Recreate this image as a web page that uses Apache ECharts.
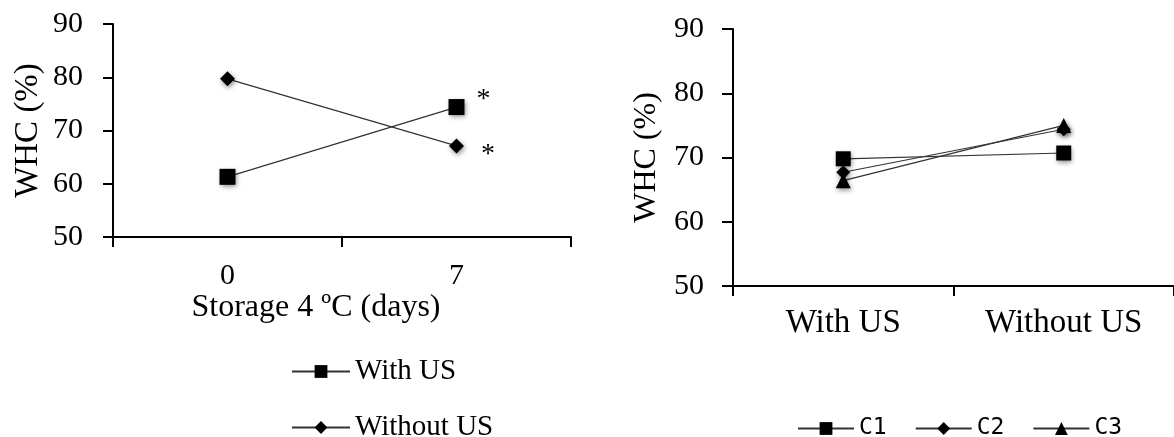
<!DOCTYPE html>
<html>
<head>
<meta charset="utf-8">
<script src="https://cdn.jsdelivr.net/npm/echarts@6/dist/echarts.min.js"></script>
<style>html,body{margin:0;padding:0;background:#fff}#c{width:1174px;height:437px}</style>
</head>
<body>
<div id="c"></div>
<script>
// Left panel
const leftCategories = ['0', '7'];
const withUS = [61.3, 74.4];
const withoutUS = [79.7, 67.1];
const withUSSig = ['', '*'];
const withoutUSSig = ['', '*'];
// Right panel
const rightCategories = ['With US', 'Without US'];
const c1 = [69.8, 70.7];
const c2 = [67.7, 74.4];
const c3 = [66.4, 75.0];

const serif = 'Liberation Serif';
const shadow = {shadowColor: 'rgba(0,0,0,0.45)', shadowBlur: 5, shadowOffsetX: 1, shadowOffsetY: 2};

function sigData(vals, sig, offset) {
  return vals.map((v, i) => sig[i] ? {
    value: v,
    label: {show: true, formatter: sig[i], position: 'right', distance: 14, fontFamily: serif, fontSize: 28, color: '#000', offset: offset}
  } : v);
}

const axisLine = {show: true, lineStyle: {color: '#000', width: 2}};
const axisTick = {show: true, length: 10, lineStyle: {color: '#000', width: 2}};

const option = {
  backgroundColor: '#fff',
  animation: false,
  grid: [
    {left: 113, top: 24, width: 458, height: 213},
    {left: 733, top: 29, width: 444, height: 257}
  ],
  xAxis: [
    {gridIndex: 0, type: 'category', data: leftCategories, boundaryGap: true,
     axisLine, axisTick: {...axisTick, alignWithLabel: false},
     axisLabel: {fontFamily: serif, fontSize: 30, color: '#000', margin: 24},
     name: 'Storage 4 ºC (days)', nameLocation: 'middle', nameGap: 50,
     nameTextStyle: {fontFamily: serif, fontSize: 32, color: '#000', padding: [0, 52, 0, 0]}},
    {gridIndex: 1, type: 'category', data: rightCategories, boundaryGap: true,
     axisLine, axisTick: {...axisTick, alignWithLabel: false},
     axisLabel: {fontFamily: serif, fontSize: 33, color: '#000', margin: 21}}
  ],
  yAxis: [
    {gridIndex: 0, type: 'value', min: 50, max: 90, interval: 10,
     axisLine, axisTick, splitLine: {show: false},
     axisLabel: {fontFamily: serif, fontSize: 30, color: '#000', margin: 30},
     name: 'WHC (%)', nameLocation: 'middle', nameGap: 68, nameRotate: 90,
     nameTextStyle: {fontFamily: serif, fontSize: 33, color: '#000'}},
    {gridIndex: 1, type: 'value', min: 50, max: 90, interval: 10,
     axisLine, axisTick: {...axisTick, length: 11}, splitLine: {show: false},
     axisLabel: {fontFamily: serif, fontSize: 30, color: '#000', margin: 29},
     name: 'WHC (%)', nameLocation: 'middle', nameGap: 70, nameRotate: 90,
     nameTextStyle: {fontFamily: serif, fontSize: 32, color: '#000'}}
  ],
  legend: [
    {left: 286, top: 352, itemWidth: 58, itemHeight: 16,
     data: ['With US'],
     textStyle: {fontFamily: serif, fontSize: 29, color: '#000'}},
    {left: 286, top: 408, itemWidth: 58, itemHeight: 16,
     data: ['Without US'],
     textStyle: {fontFamily: serif, fontSize: 29, color: '#000'}},
    {orient: 'horizontal', left: 792, top: 412, itemGap: 28, itemWidth: 56, itemHeight: 16,
     data: ['C1', 'C2', 'C3'],
     textStyle: {fontFamily: 'DejaVu Sans Mono', fontSize: 23, color: '#000'}}
  ],
  series: [
    {name: 'With US', type: 'line', xAxisIndex: 0, yAxisIndex: 0, data: sigData(withUS, withUSSig, [-2, -7]),
     symbol: 'rect', symbolSize: 16, lineStyle: {color: '#333', width: 1.2},
     itemStyle: {color: '#000', ...shadow}},
    {name: 'Without US', type: 'line', xAxisIndex: 0, yAxisIndex: 0, data: sigData(withoutUS, withoutUSSig, [3, 9]),
     symbol: 'diamond', symbolSize: 15, lineStyle: {color: '#333', width: 1.2},
     itemStyle: {color: '#000', ...shadow}},
    {name: 'C1', type: 'line', xAxisIndex: 1, yAxisIndex: 1, data: c1,
     symbol: 'rect', symbolSize: 15, lineStyle: {color: '#333', width: 1.2},
     itemStyle: {color: '#000', ...shadow}},
    {name: 'C2', type: 'line', xAxisIndex: 1, yAxisIndex: 1, data: c2,
     symbol: 'diamond', symbolSize: 14, lineStyle: {color: '#333', width: 1.2},
     itemStyle: {color: '#000', ...shadow}},
    {name: 'C3', type: 'line', xAxisIndex: 1, yAxisIndex: 1, data: c3,
     symbol: 'triangle', symbolSize: 15, lineStyle: {color: '#333', width: 1.2},
     itemStyle: {color: '#000', ...shadow}}
  ]
};
const chart = echarts.init(document.getElementById('c'), null, {renderer: 'canvas'});
chart.setOption(option);
</script>
</body>
</html>
